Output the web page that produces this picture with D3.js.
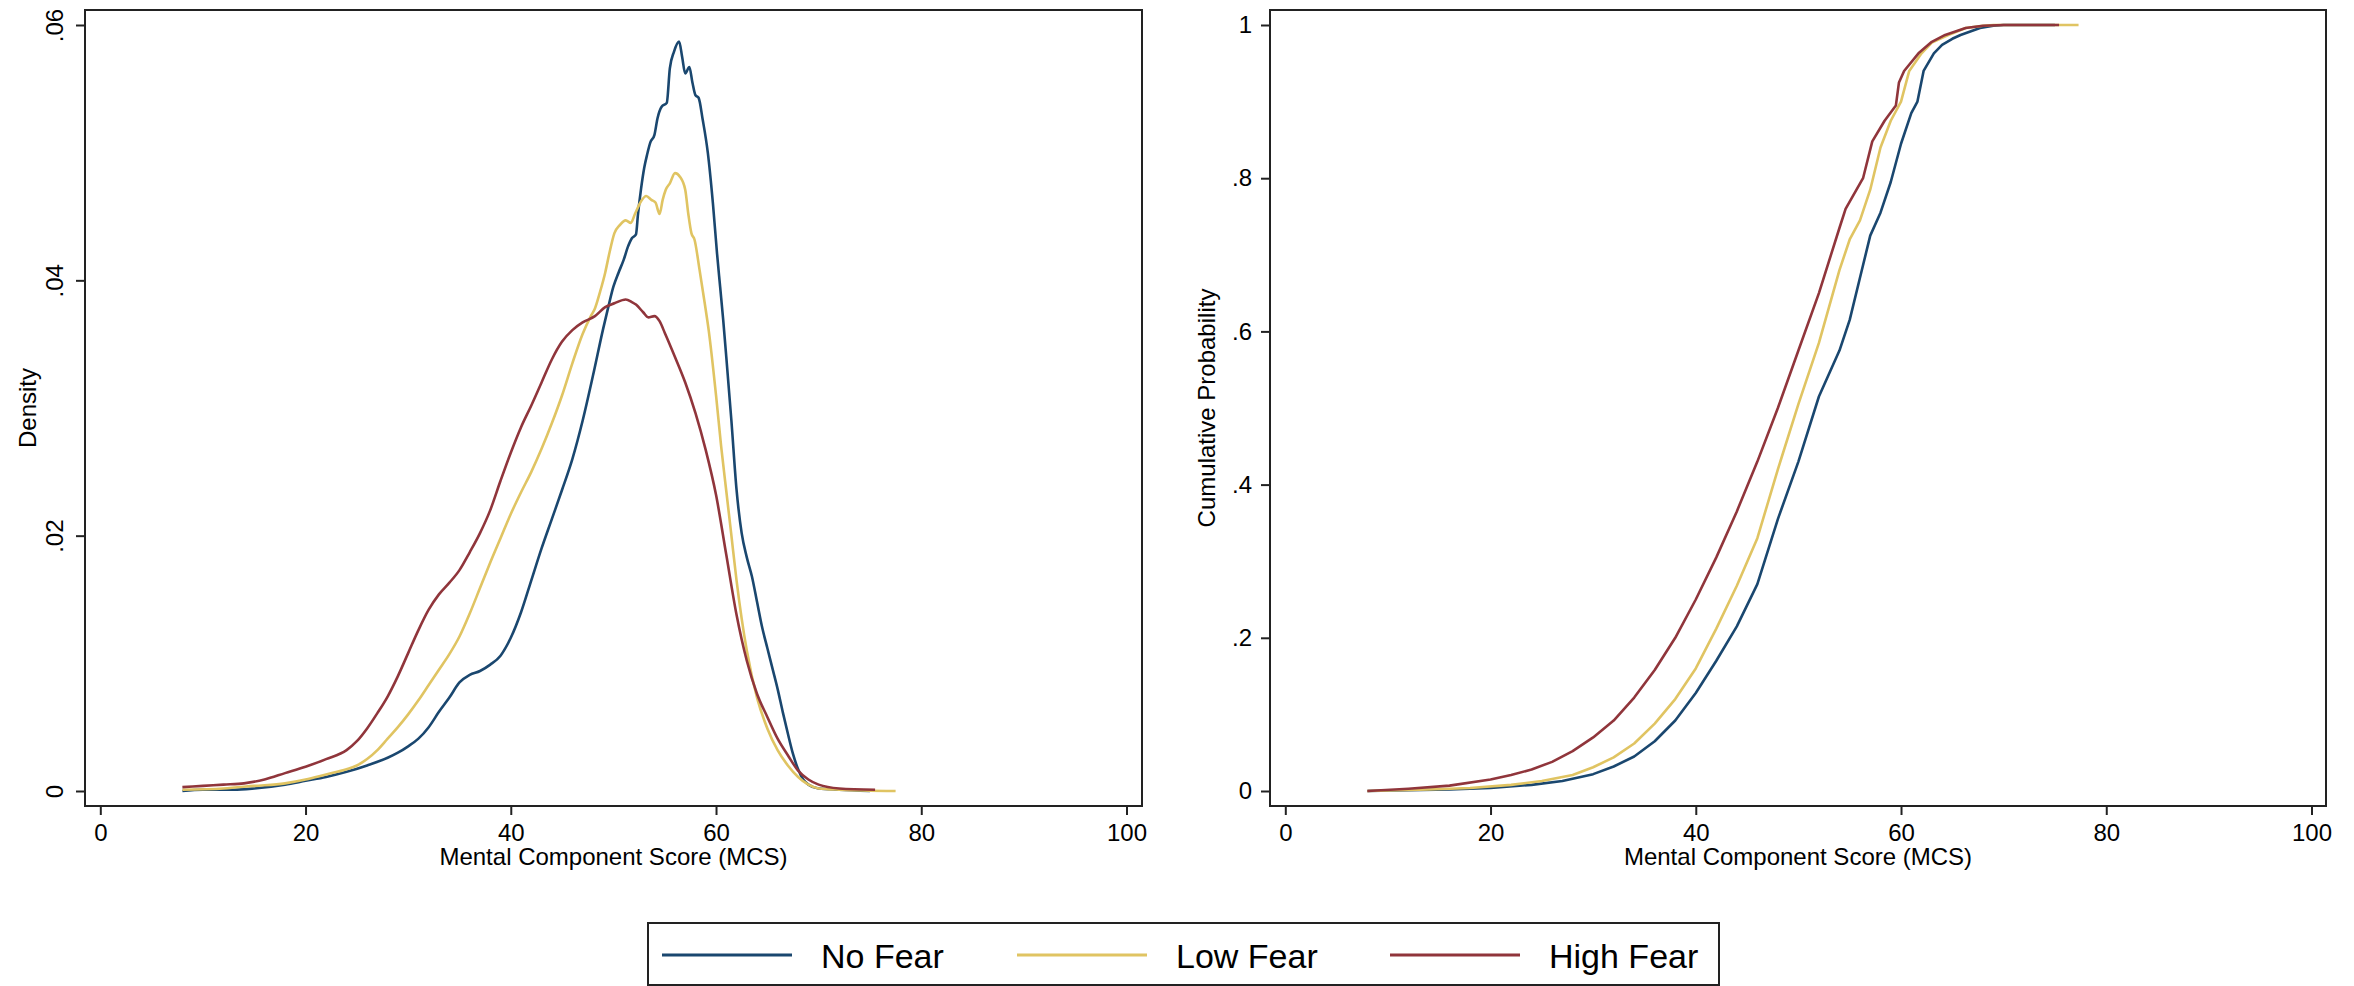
<!DOCTYPE html>
<html>
<head>
<meta charset="utf-8">
<script src="https://cdn.jsdelivr.net/npm/d3@7"></script>
<style>
  body { margin: 0; background: #fff; }
  text { font-family: "Liberation Sans", Arial, sans-serif; fill: #000; }
</style>
</head>
<body>
<script>
// series names + colours
var groups = ["No Fear", "Low Fear", "High Fear"];
var colors = ["#1a476f", "#e0c462", "#90353b"];

// x ticks shared by both panels
var xTicks = [0, 20, 40, 60, 80, 100];
var densTicks = [0, 0.02, 0.04, 0.06];
var cdfTicks = [0, 0.2, 0.4, 0.6, 0.8, 1];

// kernel density, [MCS, density]
var noFearDensity = [[8,0],[10,0.0001],[13,0.0001],[15,0.0002],[18,0.0005],[20,0.0008],[22,0.0011],[24,0.0015],[26,0.002],[28,0.0026],[29,0.003],[30,0.0035],[31,0.0041],[32,0.005],[33,0.0062],[34,0.0073],[35,0.0085],[36,0.0091],[37,0.0094],[38,0.0099],[39,0.0106],[40,0.012],[41,0.014],[42,0.0165],[43,0.019],[44,0.0213],[45,0.0236],[46,0.026],[47,0.029],[48,0.0325],[49,0.0362],[49.5,0.0379],[50,0.0395],[50.5,0.0406],[51,0.0416],[51.4,0.0426],[51.8,0.0433],[52.2,0.0436],[52.4,0.0452],[52.7,0.0472],[53,0.0488],[53.3,0.0499],[53.6,0.0508],[54,0.0514],[54.3,0.0527],[54.7,0.0536],[55.2,0.0539],[55.5,0.0566],[55.9,0.0579],[56.4,0.0587],[56.7,0.0575],[57,0.0562],[57.4,0.0567],[57.7,0.0555],[58,0.0545],[58.3,0.0543],[58.7,0.0526],[59.2,0.05],[59.7,0.046],[60.1,0.0421],[60.4,0.0395],[60.7,0.0369],[61,0.034],[61.5,0.029],[62,0.0236],[62.5,0.0202],[63,0.0183],[63.5,0.0168],[64,0.0148],[64.5,0.0128],[65,0.0112],[65.5,0.0096],[66,0.008],[66.5,0.0062],[67,0.0045],[67.5,0.0029],[68,0.0017],[68.5,0.0009],[69,0.0005],[70,0.0002],[72,0.0001],[75,0]];

var lowFearDensity = [[8,0.0001],[12,0.0002],[15,0.0004],[18,0.0006],[20,0.0009],[22,0.0013],[24,0.0017],[25,0.002],[26,0.0025],[27,0.0032],[28,0.0041],[29,0.005],[30,0.006],[31,0.0071],[32,0.0083],[33,0.0095],[34,0.0107],[35,0.0121],[36,0.0139],[37,0.0159],[38,0.0179],[39,0.0198],[40,0.0217],[41,0.0234],[42,0.025],[43,0.0268],[44,0.0288],[45,0.031],[46,0.0335],[47,0.0358],[47.8,0.0372],[48.2,0.0378],[48.7,0.0391],[49.2,0.0406],[49.6,0.0421],[50.1,0.0437],[50.6,0.0443],[51.2,0.0447],[51.7,0.0445],[52.1,0.0452],[52.7,0.0462],[53.2,0.0466],[53.7,0.0463],[54.1,0.0461],[54.5,0.0452],[54.8,0.0463],[55.1,0.0471],[55.5,0.0476],[56,0.0484],[56.5,0.0481],[57,0.0471],[57.3,0.0452],[57.6,0.0437],[57.9,0.0432],[58.4,0.0408],[58.9,0.0382],[59.3,0.036],[60,0.031],[60.5,0.027],[61,0.0235],[61.5,0.02],[62,0.0165],[62.5,0.0135],[63,0.011],[64,0.0073],[65,0.0049],[66,0.0032],[67,0.002],[68,0.0011],[69,0.0005],[70,0.0002],[72,0.0001],[77.5,0]];

var highFearDensity = [[8,0.0003],[10,0.0004],[12,0.0005],[14,0.0006],[16,0.0009],[18,0.0014],[20,0.0019],[22,0.0025],[24,0.0032],[25,0.0039],[26,0.0049],[27,0.0061],[28,0.0074],[29,0.009],[30,0.0108],[31,0.0126],[32,0.0142],[33,0.0154],[34,0.0163],[35,0.0173],[36,0.0187],[37,0.0202],[38,0.022],[39,0.0243],[40,0.0265],[41,0.0285],[42,0.0302],[43,0.032],[44,0.0338],[45,0.0352],[46,0.0361],[47,0.0367],[48.2,0.0372],[49.2,0.0379],[50.1,0.0382],[51.2,0.0385],[51.8,0.0383],[52.2,0.0381],[52.9,0.0375],[53.4,0.0371],[54,0.0372],[54.5,0.0368],[55,0.0359],[56,0.034],[57,0.032],[58,0.0296],[59,0.0267],[60,0.0232],[61,0.0185],[62,0.0138],[63,0.0102],[64,0.0076],[65,0.0058],[66,0.0041],[67,0.0028],[68,0.0016],[69,0.0009],[70,0.0005],[72,0.0002],[75.5,0.0001]];

// cumulative probability, [MCS, F(x)]
var noFearCdf = [[8,0],[16,0.002],[20,0.004],[24,0.008],[27,0.013],[30,0.022],[32,0.032],[34,0.045],[36,0.065],[38,0.092],[40,0.128],[42,0.17],[44,0.215],[46,0.27],[48,0.355],[50,0.43],[52,0.515],[54,0.575],[55,0.615],[56,0.67],[57,0.725],[58,0.755],[59,0.795],[60,0.845],[61,0.885],[61.6,0.9],[62.2,0.94],[63.2,0.963],[64,0.974],[65,0.982],[65.8,0.987],[67.7,0.996],[69,0.999],[70,1],[75,1]];

var lowFearCdf = [[8,0],[14,0.002],[18,0.004],[22,0.008],[25,0.013],[28,0.021],[30,0.031],[32,0.044],[34,0.062],[36,0.088],[38,0.12],[40,0.16],[42,0.212],[44,0.268],[46,0.33],[48,0.42],[50,0.505],[52,0.585],[54,0.68],[55,0.72],[56,0.745],[57,0.785],[58,0.84],[59,0.875],[60,0.9],[60.8,0.94],[62,0.963],[63,0.977],[64.6,0.987],[66.3,0.996],[68,0.999],[69,1],[77.3,1]];

var highFearCdf = [[8,0],[12,0.003],[16,0.007],[20,0.015],[22,0.021],[24,0.028],[26,0.038],[28,0.052],[30,0.07],[32,0.092],[34,0.122],[36,0.158],[38,0.2],[40,0.25],[42,0.305],[44,0.365],[46,0.43],[48,0.5],[50,0.575],[52,0.65],[54,0.735],[54.6,0.76],[56.3,0.8],[57.2,0.848],[58.4,0.875],[59.5,0.895],[59.8,0.925],[60.3,0.94],[61.7,0.963],[63,0.978],[64.3,0.987],[66.3,0.996],[68,0.999],[70,1],[75.4,1]];

var width = 2354, height = 986;

var svg = d3.select("body")
    .append("svg")
    .attr("width", width)
    .attr("height", height);

// panel geometry
var panels = [
  { left: 85, right: 1142, x0: 100.3, x1: 1126.5, yMax: 0.06, yTicks: densTicks,
    data: [noFearDensity, lowFearDensity, highFearDensity], ytitle: "Density", rotateY: true, ytitleX: 36 },
  { left: 1270, right: 2326, x0: 1285.3, x1: 2311.5, yMax: 1, yTicks: cdfTicks,
    data: [noFearCdf, lowFearCdf, highFearCdf], ytitle: "Cumulative Probability", rotateY: false, ytitleX: 1215 }
];
var plotTop = 10, plotBottom = 806;

function fmt(d) {
  if (d === 0) return "0";
  if (d === 1) return "1";
  return String(+d.toFixed(2)).replace(/^0/, "");
}

panels.forEach(function(p, pi) {
  var xscale = d3.scaleLinear().domain([0, 100]).range([p.x0, p.x1]);
  var yscale = d3.scaleLinear().domain([0, p.yMax]).range([791, 25]);

  // x axis
  var xaxis = d3.axisBottom(xscale).tickValues(xTicks).tickSize(9).tickPadding(9);
  var gx = svg.append("g")
      .attr("transform", "translate(0," + plotBottom + ")")
      .call(xaxis);
  gx.select(".domain").remove();
  gx.selectAll("line").attr("stroke", "#222").attr("stroke-width", 2);
  gx.selectAll("text").style("font-size", "24px").attr("font-family", null);

  // y axis
  var yaxis = d3.axisLeft(yscale).tickValues(p.yTicks).tickFormat(fmt).tickSize(9).tickPadding(9);
  var gy = svg.append("g")
      .attr("transform", "translate(" + p.left + ",0)")
      .call(yaxis);
  gy.select(".domain").remove();
  gy.selectAll("line").attr("stroke", "#222").attr("stroke-width", 2);
  gy.selectAll("text").style("font-size", "24px").attr("font-family", null);
  if (p.rotateY) {
    gy.selectAll("text")
      .attr("x", null).attr("dy", null)
      .attr("text-anchor", "middle")
      .attr("transform", "translate(-22,0) rotate(-90)");
  }

  // frame
  svg.append("rect")
    .attr("x", p.left).attr("y", plotTop)
    .attr("width", p.right - p.left).attr("height", plotBottom - plotTop)
    .attr("fill", "none").attr("stroke", "#222").attr("stroke-width", 2);

  // curves
  var line = d3.line()
      .x(function(d) { return xscale(d[0]); })
      .y(function(d) { return yscale(d[1]); })
      .curve(pi === 0 ? d3.curveMonotoneX : d3.curveLinear);

  p.data.forEach(function(series, i) {
    svg.append("path")
      .datum(series)
      .attr("fill", "none")
      .attr("stroke", colors[i])
      .attr("stroke-width", 2.6)
      .attr("stroke-linejoin", "round")
      .attr("d", line);
  });

  // axis titles
  svg.append("text")
    .attr("x", (p.left + p.right) / 2)
    .attr("y", 865)
    .attr("text-anchor", "middle")
    .style("font-size", "24px")
    .text("Mental Component Score (MCS)");

  svg.append("text")
    .attr("transform", "translate(" + p.ytitleX + "," + ((plotTop + plotBottom) / 2) + ") rotate(-90)")
    .attr("text-anchor", "middle")
    .style("font-size", "24px")
    .text(p.ytitle);
});

// legend
var legend = svg.append("g");
legend.append("rect")
  .attr("x", 648).attr("y", 923)
  .attr("width", 1071).attr("height", 62)
  .attr("fill", "#fff").attr("stroke", "#222").attr("stroke-width", 2);

var legX = [662, 1017, 1390];
groups.forEach(function(g, i) {
  legend.append("line")
    .attr("x1", legX[i]).attr("x2", legX[i] + 130)
    .attr("y1", 955).attr("y2", 955)
    .attr("stroke", colors[i]).attr("stroke-width", 3);
  legend.append("text")
    .attr("x", legX[i] + 159)
    .attr("y", 967.5)
    .style("font-size", "34px")
    .text(g);
});
</script>
</body>
</html>
